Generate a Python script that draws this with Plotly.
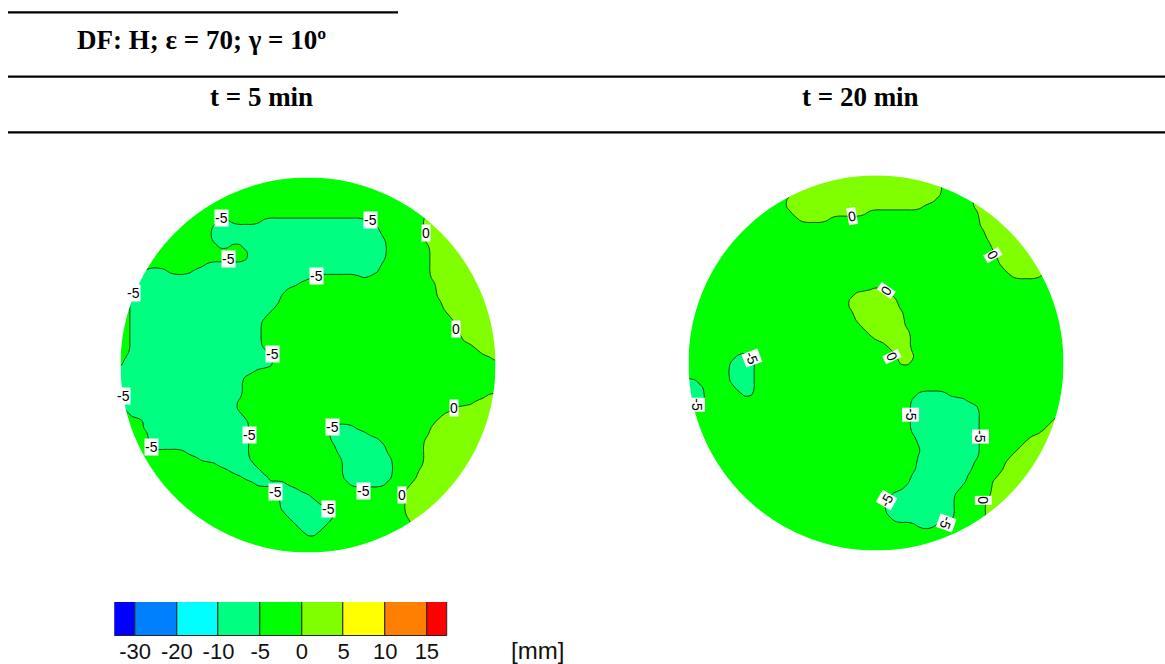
import numpy as np
import plotly.graph_objects as go

# Displacement class on a 61 x 61 node grid over each sample, one run-length
# encoded string per grid row, listed from the top of the sample downwards.
# T: -10..-5 mm   G: -5..0 mm   Y: 0..5 mm
CLASS_VALUE = {"T": -7.5, "G": -2.5, "Y": 2.5}

rows_5min = [
    "G61", "G61", "G61", "G61", "G61", "G61",
    "G49 Y12",
    "G16 T2 G5 T17 G9 Y12",
    "G15 T27 G7 Y12",
    "G15 T27 G7 Y12",
    "G15 T28 G6 Y12",
    "G16 T2 G2 T23 G7 Y11",
    "G21 T22 G7 Y11",
    "G21 T22 G7 Y11",
    "G14 T28 G8 Y11",
    "G4 T4 G4 T30 G8 Y11",
    "G4 T27 G8 T1 G10 Y11",
    "G3 T26 G22 Y10",
    "G3 T24 G24 Y10",
    "G2 T24 G25 Y10",
    "G2 T24 G26 Y9",
    "G2 T23 G27 Y9",
    "G2 T22 G29 Y8",
    "G2 T21 G31 Y7",
    "G2 T21 G31 Y7",
    "G2 T21 G32 Y6",
    "G2 T21 G32 Y6",
    "G2 T21 G34 Y4",
    "G2 T22 G34 Y3",
    "G1 T24 G35 Y1",
    "G1 T24 G36",
    "T22 G39",
    "T20 G41",
    "T20 G41",
    "T20 G41",
    "T20 G39 Y2",
    "G1 T18 G38 Y4",
    "G1 T4 G1 T13 G35 Y7",
    "G2 T2 G2 T14 G32 Y9",
    "G4 T17 G30 Y10",
    "G4 T17 G13 T4 G12 Y11",
    "G5 T16 G13 T6 G10 Y11",
    "G5 T16 G13 T8 G7 Y12",
    "G5 T16 G14 T8 G6 Y12",
    "G11 T10 G14 T8 G6 Y12",
    "G13 T8 G15 T8 G5 Y12",
    "G16 T6 G14 T8 G5 Y12",
    "G18 T5 G13 T8 G4 Y13",
    "G20 T4 G12 T8 G4 Y13",
    "G22 T5 G10 T6 G4 Y14",
    "G25 T4 G17 Y15",
    "G26 T5 G15 Y15",
    "G26 T6 G14 Y15",
    "G26 T8 G12 Y15",
    "G27 T8 G11 Y15",
    "G28 T6 G13 Y14",
    "G29 T4 G14 Y14",
    "G30 T2 G15 Y14",
    "G47 Y14", "G47 Y14", "G47 Y14",
]

rows_20min = [
    "G17 Y24 G5 Y15",
    "G17 Y24 G5 Y15",
    "G17 Y24 G5 Y15",
    "G17 Y24 G5 Y15",
    "G16 Y24 G6 Y15",
    "G16 Y22 G8 Y15",
    "G17 Y12 G18 Y14",
    "G18 Y5 G24 Y14",
    "G47 Y14",
    "G48 Y13",
    "G48 Y13",
    "G49 Y12",
    "G49 Y12",
    "G50 Y11",
    "G50 Y11",
    "G51 Y10",
    "G52 Y5 G4",
    "G61",
    "G30 Y1 G30",
    "G27 Y6 G28",
    "G26 Y8 G27",
    "G26 Y8 G27",
    "G27 Y8 G26",
    "G27 Y8 G26",
    "G28 Y7 G26",
    "G29 Y7 G25",
    "G30 Y6 G25",
    "G32 Y4 G25",
    "G33 Y3 G25",
    "G8 T3 G23 Y3 G24",
    "G7 T4 G23 Y2 G25",
    "G7 T4 G50",
    "G7 T4 G50",
    "T2 G5 T4 G50",
    "T3 G5 T3 G50",
    "T3 G6 T2 G26 T5 G19",
    "T3 G33 T9 G16",
    "T3 G33 T11 G14",
    "T1 G35 T11 G13 Y1",
    "G36 T11 G12 Y2",
    "G36 T11 G11 Y3",
    "G36 T11 G10 Y4",
    "G37 T10 G8 Y6",
    "G37 T10 G7 Y7",
    "G38 T9 G6 Y8",
    "G37 T10 G5 Y9",
    "G37 T9 G5 Y10",
    "G37 T9 G5 Y10",
    "G36 T9 G5 Y11",
    "G36 T9 G4 Y12",
    "G35 T9 G5 Y12",
    "G33 T10 G6 Y12",
    "G32 T11 G5 Y13",
    "G32 T11 G5 Y13",
    "G32 T11 G5 Y13",
    "G33 T10 G5 Y13",
    "G37 T3 G8 Y13",
    "G48 Y13", "G48 Y13", "G48 Y13", "G48 Y13",
]

N = 61
grid = list(range(-(N // 2), N // 2 + 1))  # node coordinates, grid units

# isoline labels: (x, y) in grid units, level, text angle
labels_5min = [
    (-13.8, 23.5, -5, 0), (10.0, 23.2, -5, 0), (-12.7, 16.9, -5, 0),
    (1.4, 14.2, -5, 0), (-27.9, 11.5, -5, 0), (18.9, 21.1, 0, 0),
    (23.6, 5.7, 0, 0), (-5.7, 1.7, -5, 0), (-29.6, -4.9, -5, 0),
    (23.4, -6.8, 0, 0), (3.9, -9.9, -5, 0), (-9.4, -11.2, -5, 0),
    (-25.0, -13.1, -5, 0), (8.85, -20.2, -5, 0), (15.1, -20.8, 0, 0),
    (-5.2, -20.3, -5, 0), (3.25, -23.0, -5, 0),
]
labels_20min = [
    (-3.8, 23.6, 0, -10), (18.7, 17.3, 0, 60), (1.55, 11.6, 0, -55),
    (2.6, 1.0, 0, 65), (-19.9, 0.75, -5, 70), (-28.7, -6.7, -5, 90),
    (5.55, -8.3, -5, 90), (16.75, -11.8, -5, 90), (1.7, -21.9, -5, -60),
    (17.2, -21.9, 0, 90), (11.2, -25.5, -5, 110),
]

legend_ticks = ["-30", "-20", "-10", "-5", "0", "5", "10", "15"]
legend_colors = ["#0000FF", "#0080FF", "#00FFFF", "#00FF80", "#00FF00",
                 "#80FF00", "#FFFF00", "#FF8000", "#FF0000"]


def decode(rows):
    out = []
    for r in rows:
        line = []
        for tok in r.split():
            line += [CLASS_VALUE[tok[0]]] * int(tok[1:])
        assert len(line) == N, r
        out.append(line)
    assert len(out) == N
    return np.array(out[::-1])  # y axis runs upward


def anti_alias(z):
    # 1-2-1 pass over the class raster so band edges render as curves, not steps
    k = np.array([1.0, 2.0, 1.0]) / 4.0
    p = np.pad(z, 1, mode="edge")
    p = k[0] * p[:, :-2] + k[1] * p[:, 1:-1] + k[2] * p[:, 2:]
    p = k[0] * p[:-2, :] + k[1] * p[1:-1, :] + k[2] * p[2:, :]
    return p


W, H = 1165, 664
PX_PER_UNIT = 6.25
SAMPLE_R = 30.0  # sample radius in grid units


def circle_mask_path(R, outer=33.0, n=360):
    path = f"M{-outer},{-outer} L{outer},{-outer} L{outer},{outer} L{-outer},{outer} Z "
    ang = np.linspace(0, -2 * np.pi, n, endpoint=False)
    pts = [f"{R*np.cos(a):.4f},{R*np.sin(a):.4f}" for a in ang]
    return path + "M" + pts[0] + " " + " ".join("L" + p for p in pts[1:]) + " Z"


fig = go.Figure()
annotations = []

# sample centres on the page (px)
panels = [
    (rows_5min, labels_5min, 308.0, 365.0, "x", "y"),
    (rows_20min, labels_20min, 876.0, 363.0, "x2", "y2"),
]

axes = {}
shapes = []
span = N // 2 + 0.5
sans = "Liberation Sans, Arial, sans-serif"
for idx, (rows, labels, cx, cy, xa, ya) in enumerate(panels):
    half = span * PX_PER_UNIT
    fig.add_trace(go.Contour(
        x=grid, y=grid, z=anti_alias(decode(rows)),
        xaxis=xa, yaxis=ya,
        autocontour=False,
        contours=dict(start=-5, end=0, size=5, coloring="fill", showlabels=False),
        colorscale=[[0.0, "#00FF80"], [0.5, "#00FF00"], [1.0, "#80FF00"]],
        line=dict(color="#1a2a1a", width=0.9, smoothing=1.3),
        showscale=False, hoverinfo="skip",
    ))
    sfx = "" if idx == 0 else "2"
    axes["xaxis" + sfx] = dict(domain=[(cx - half) / W, (cx + half) / W],
                               range=[-span, span], visible=False, fixedrange=True)
    axes["yaxis" + sfx] = dict(domain=[1 - (cy + half) / H, 1 - (cy - half) / H],
                               range=[-span, span], visible=False, fixedrange=True)
    shapes.append(dict(type="path", xref=xa, yref=ya, path=circle_mask_path(SAMPLE_R),
                       fillcolor="white", line=dict(width=0), layer="above"))
    for lx, ly, lev, ang in labels:
        annotations.append(dict(
            x=lx, y=ly, xref=xa, yref=ya, text=f"{lev:d}", textangle=ang,
            showarrow=False, xanchor="center", yanchor="middle",
            bgcolor="white", borderpad=0,
            font=dict(family=sans, size=14, color="black")))

# colour legend: one box per band, half-width boxes at both ends
edges = [-0.5] + list(range(len(legend_ticks))) + [len(legend_ticks) - 0.5]
centres = [(a + b) / 2 for a, b in zip(edges[:-1], edges[1:])]
widths = [b - a for a, b in zip(edges[:-1], edges[1:])]
fig.add_trace(go.Bar(
    x=centres, y=[1] * len(centres), width=widths, base=0,
    marker=dict(color=legend_colors, line=dict(color="#222222", width=1)),
    xaxis="x3", yaxis="y3", showlegend=False, hoverinfo="skip", cliponaxis=False,
))
axes["xaxis3"] = dict(
    domain=[114.3 / W, 447.7 / W], range=[edges[0], edges[-1]], anchor="y3",
    tickmode="array", tickvals=list(range(len(legend_ticks))), ticktext=legend_ticks,
    showgrid=False, zeroline=False, showline=False, ticks="",
    tickfont=dict(size=22, color="#111111", family=sans),
    fixedrange=True)
axes["yaxis3"] = dict(domain=[1 - 636 / H, 1 - 602 / H], range=[0, 1], anchor="x3",
                      visible=False, fixedrange=True)

# header rules
for y_px, x0_px, x1_px in [(12.3, 8, 398), (76.7, 8, W), (132.3, 8, W)]:
    shapes.append(dict(type="line", xref="paper", yref="paper",
                       x0=x0_px / W, x1=x1_px / W, y0=1 - y_px / H, y1=1 - y_px / H,
                       line=dict(color="black", width=2.2)))

serif = "Liberation Serif, Times New Roman, serif"
heads = [
    dict(text="<b>DF: H; ε = 70; γ = 10º</b>", x=201 / W, y=1 - 40 / H,
         font=dict(family=serif, size=27, color="black")),
    dict(text="<b>t = 5 min</b>", x=261 / W, y=1 - 97 / H,
         font=dict(family=serif, size=27, color="black")),
    dict(text="<b>t = 20 min</b>", x=860 / W, y=1 - 97 / H,
         font=dict(family=serif, size=27, color="black")),
    dict(text="[mm]", x=537.5 / W, y=1 - 650 / H,
         font=dict(family=sans, size=24, color="#111111")),
]
for a in heads:
    a.update(xref="paper", yref="paper", xanchor="center", yanchor="middle", showarrow=False)
annotations += heads

fig.update_layout(
    width=W, height=H, margin=dict(l=0, r=0, t=0, b=0),
    paper_bgcolor="white", plot_bgcolor="white",
    showlegend=False, shapes=shapes, annotations=annotations,
    bargap=0, **axes,
)

fig.write_html("out.html", config={"displayModeBar": False})
